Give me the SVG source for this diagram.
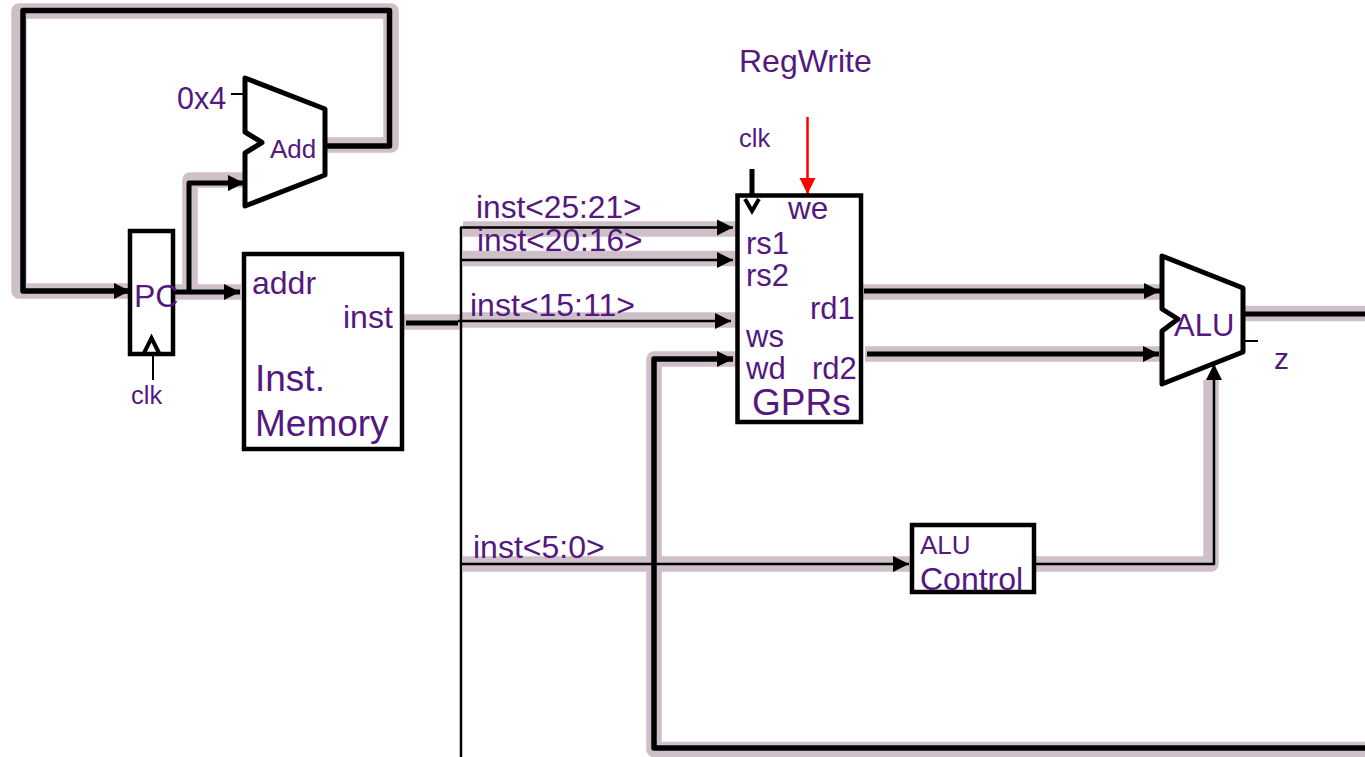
<svg xmlns="http://www.w3.org/2000/svg" width="1365" height="757" viewBox="0 0 1365 757">
<style>
text{font-family:"Liberation Sans",Arial,sans-serif;fill:#54187f}
.halo{fill:none;stroke:#cfbfc9;stroke-linejoin:round}
.w{fill:none;stroke:#000;stroke-linejoin:round}
.box{fill:#fff;stroke:#000;stroke-width:4.5}
.mux{fill:#fff;stroke:#000;stroke-width:5;stroke-linejoin:round}
.chev{fill:none;stroke:#000;stroke-width:4}
</style>
<defs>
<marker id="ah" markerUnits="userSpaceOnUse" markerWidth="18" markerHeight="18" refX="16" refY="9" orient="auto"><path d="M0 1L16 9L0 17Z" fill="#000"/></marker>
<marker id="ar" markerUnits="userSpaceOnUse" markerWidth="18" markerHeight="18" refX="16" refY="9" orient="auto"><path d="M0 1L16 9L0 17Z" fill="#f00"/></marker>
</defs>
<g id="connectors">
<g class="halo" stroke-width="15.500">
<path d="M241 292H190V180H245"/>
<path d="M175 292H190"/>
<path d="M130 291H19V11H391V145H327"/>
<path d="M403 322H461"/>
<path d="M463 229H737"/>
<path d="M463 258.500H737"/>
<path d="M461 320H737"/>
<path d="M736 359H654V749.500H1365"/>
<path d="M463 564H912"/>
<path d="M1034 564H1211V380"/>
<path d="M862 292H1162"/>
<path d="M865 354H1162"/>
<path d="M1243 313.500H1365"/>
</g>
<path class="w" stroke-width="5.500" d="M130 291H23V10.500H389.500V146H325"/>
<path class="w" stroke-width="5" d="M117 291H130" marker-end="url(#ah)"/>
<path class="w" stroke-width="5" d="M175 292H240" marker-end="url(#ah)"/>
<path class="w" stroke-width="5" d="M189 292V183H244" marker-end="url(#ah)"/>
<path class="w" stroke-width="5" d="M406 323H458"/>
<path class="w" stroke-width="2.500" d="M461 757V227.500H733" marker-end="url(#ah)"/>
<path class="w" stroke-width="2.500" d="M461 260H733" marker-end="url(#ah)"/>
<path class="w" stroke-width="2.500" d="M458 321H731" marker-end="url(#ah)"/>
<path class="w" stroke-width="2.500" d="M461 564H909" marker-end="url(#ah)"/>
<path class="w" stroke-width="5.500" d="M1365 748H654V359H733" marker-end="url(#ah)"/>
<path class="w" stroke-width="2.500" d="M1034 564H1214V364" marker-end="url(#ah)"/>
<path class="w" stroke-width="5" d="M864 291H1160" marker-end="url(#ah)"/>
<path class="w" stroke-width="5" d="M867 354H1159" marker-end="url(#ah)"/>
<path class="w" stroke-width="5" d="M1243 314H1365"/>
<path class="w" stroke-width="2" d="M1245 341H1258"/>
<path class="w" stroke-width="2" d="M231 94H245"/>
<path class="w" stroke-width="2" d="M153 380V345"/>
<path class="w" stroke-width="5" d="M752 169V208"/>
<path d="M807.500 117V194" fill="none" stroke="#f00" stroke-width="2.500" marker-end="url(#ar)"/>
</g>
<g id="pc">
<rect class="box" x="130" y="231" width="43" height="123"/>
<path class="chev" d="M144 353L151.500 338L159 353"/>
<text x="134" y="307" font-size="32">PC</text>
</g>
<g id="pc-clk"><text x="131" y="404" font-size="25.500">clk</text></g>
<g id="adder">
<path class="mux" d="M245 78L325 109V175L245 206V153L262 142.500L245 132Z"/>
<text x="270" y="158" font-size="26">Add</text>
</g>
<g id="const4"><text x="177" y="109" font-size="30.500">0x4</text></g>
<g id="inst-memory">
<rect class="box" x="244" y="254" width="158" height="195"/>
<text x="252" y="294" font-size="32">addr</text>
<text x="343" y="328" font-size="32">inst</text>
<text x="255" y="391" font-size="37">Inst.</text>
<text x="255" y="436" font-size="37">Memory</text>
</g>
<g id="bus-labels">
<text x="476" y="218" font-size="31.700">inst&lt;25:21&gt;</text>
<text x="477" y="251" font-size="31.700">inst&lt;20:16&gt;</text>
<text x="470" y="316" font-size="32">inst&lt;15:11&gt;</text>
<text x="473" y="558" font-size="32">inst&lt;5:0&gt;</text>
</g>
<g id="gprs">
<rect class="box" x="737.500" y="195.500" width="123.500" height="226.500"/>
<path class="chev" stroke-width="5" d="M745 199L752 211L759 199"/>
<text x="788" y="219" font-size="31.500">we</text>
<text x="746" y="254" font-size="31">rs1</text>
<text x="746" y="286" font-size="31">rs2</text>
<text x="810" y="319" font-size="31">rd1</text>
<text x="746" y="347" font-size="31">ws</text>
<text x="746" y="379" font-size="31">wd</text>
<text x="812" y="379" font-size="31">rd2</text>
<text x="752" y="415" font-size="37">GPRs</text>
</g>
<g id="regwrite"><text x="739" y="72" font-size="32">RegWrite</text></g>
<g id="gprs-clk"><text x="739" y="147" font-size="25.500">clk</text></g>
<g id="alu">
<path class="mux" d="M1162 256L1243 288V352L1162 384V331L1178 319L1162 309Z"/>
<text x="1174" y="336" font-size="31">ALU</text>
</g>
<g id="zero"><text x="1274" y="369" font-size="30">z</text></g>
<g id="alu-control">
<rect class="box" x="912" y="525" width="122" height="67"/>
<text x="920" y="554" font-size="26">ALU</text>
<text x="920" y="590" font-size="32">Control</text>
</g>
</svg>
